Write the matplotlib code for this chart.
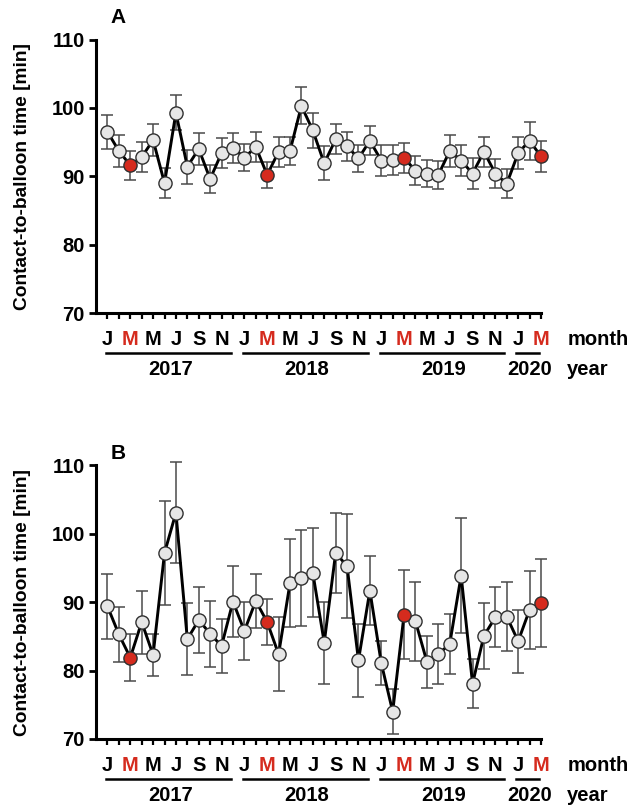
import numpy as np
import matplotlib.pyplot as plt

plt.rcParams['font.family'] = ['Liberation Sans', 'DejaVu Sans']
plt.rcParams['font.weight'] = 'bold'

month_letters = ['J', 'F', 'M', 'A', 'M', 'J', 'J', 'A', 'S', 'O', 'N', 'D']
years = ['2017', '2018', '2019', '2020']
months_per_year = [12, 12, 12, 3]

# panel A, monthly mean +- error
mean_a = [96.5, 93.7, 91.6, 92.8, 95.3, 89.0, 99.3, 91.4, 94.0, 89.6, 93.4, 94.2,
          92.7, 94.3, 90.2, 93.6, 93.7, 100.3, 96.7, 91.9, 95.4, 94.4, 92.6, 95.2,
          92.3, 92.4, 92.7, 90.8, 90.4, 90.2, 93.7, 92.3, 90.4, 93.6, 90.4, 88.9,
          93.4, 95.2, 92.9]
err_a = [2.5, 2.3, 2.1, 2.2, 2.3, 2.2, 2.6, 2.5, 2.4, 2.1, 2.2, 2.2,
         2.0, 2.2, 1.9, 2.2, 2.1, 2.7, 2.5, 2.5, 2.2, 2.1, 2.0, 2.1,
         2.3, 2.2, 2.2, 2.1, 2.0, 2.1, 2.3, 2.2, 2.3, 2.2, 2.1, 2.1,
         2.3, 2.8, 2.3]

# panel B
mean_b = [89.4, 85.3, 81.9, 87.1, 82.3, 97.2, 103.1, 84.6, 87.4, 85.4, 83.6, 90.1,
          85.8, 90.2, 87.1, 82.4, 92.8, 93.5, 94.3, 84.1, 97.2, 95.3, 81.5, 91.7,
          81.1, 74.0, 88.2, 87.2, 81.3, 82.4, 83.9, 93.9, 78.1, 85.1, 87.8, 87.9,
          84.3, 88.9, 89.9]
err_b = [4.8, 4.0, 3.4, 4.6, 3.1, 7.6, 7.4, 5.3, 4.8, 4.8, 4.0, 5.2,
         4.3, 4.0, 3.4, 5.4, 6.4, 7.0, 6.5, 6.0, 5.8, 7.6, 5.3, 5.0,
         3.2, 3.3, 6.5, 5.8, 3.8, 4.4, 4.4, 8.4, 3.6, 4.8, 4.4, 5.1,
         4.6, 5.7, 6.4]

RED = '#d52b1e'
n = sum(months_per_year)
x = np.arange(n)
month_idx = np.concatenate([np.arange(m) for m in months_per_year])
is_march = month_idx == 2
FS = 14.5


def panel(ax, mean, err, letter, letter_y):
    mean = np.array(mean)
    ax.errorbar(x, mean, yerr=err, fmt='none', ecolor='#4a4a4a', elinewidth=1.1,
                capsize=4.5, capthick=1.1, zorder=1, clip_on=False)
    ax.plot(x, mean, color='black', lw=2.1, zorder=2, clip_on=False)
    ax.plot(x[~is_march], mean[~is_march], 'o', ms=9.5, mfc='#e6e6e6', mec='#303030',
            mew=1.0, ls='none', zorder=3, clip_on=False)
    ax.plot(x[is_march], mean[is_march], 'o', ms=9.5, mfc=RED, mec='#303030',
            mew=1.0, ls='none', zorder=3, clip_on=False)

    ax.set_xlim(-1, n - 1)
    ax.set_ylim(70, 110)
    ax.set_yticks([70, 80, 90, 100, 110])
    for s in ['top', 'right']:
        ax.spines[s].set_visible(False)
    ax.spines['left'].set_linewidth(2.2)
    ax.spines['bottom'].set_linewidth(2.2)
    ax.tick_params(axis='y', length=5, width=2, labelsize=FS, pad=3)
    ax.tick_params(axis='x', length=4, width=1.6, labelsize=FS, pad=8.5)

    ax.set_xticks(x)
    labels = [month_letters[m] if m % 2 == 0 else '' for m in month_idx]
    ax.set_xticklabels(labels, fontweight='bold')
    for i, (t, lab) in enumerate(zip(ax.xaxis.get_major_ticks(), ax.get_xticklabels())):
        if is_march[i]:
            t.tick1line.set_color(RED)
            lab.set_color(RED)
    for lab in ax.get_yticklabels():
        lab.set_fontweight('bold')

    ax.set_ylabel('Contact-to-balloon time [min]', fontsize=13.8, fontweight='bold')
    ax.yaxis.set_label_coords(-0.146, 0.5)

    trans = ax.get_xaxis_transform()
    start = 0
    for yr, m in zip(years, months_per_year):
        end = start + m - 1
        ax.plot([start - 0.15, end - 0.2], [-0.148, -0.148], color='black', lw=1.8,
                transform=trans, clip_on=False)
        ax.text((start + end) / 2, -0.205, yr, transform=trans, ha='center',
                va='center', fontsize=FS, fontweight='bold')
        start += m
    ax.text(40.3, -0.097, 'month', transform=trans, ha='left', va='center',
            fontsize=FS, fontweight='bold')
    ax.text(40.3, -0.205, 'year', transform=trans, ha='left', va='center',
            fontsize=FS, fontweight='bold')
    ax.text(0.05, letter_y, letter, transform=ax.transAxes, ha='center',
            va='center', fontsize=15, fontweight='bold')


fig = plt.figure(figsize=(6.32, 8.08), dpi=100)
ax1 = fig.add_axes([0.152, 0.6126, 0.704, 0.3385])
ax2 = fig.add_axes([0.152, 0.0854, 0.704, 0.3385])
panel(ax1, mean_a, err_a, 'A', 1.079)
panel(ax2, mean_b, err_b, 'B', 1.045)

fig.savefig('out.png', dpi=100)
